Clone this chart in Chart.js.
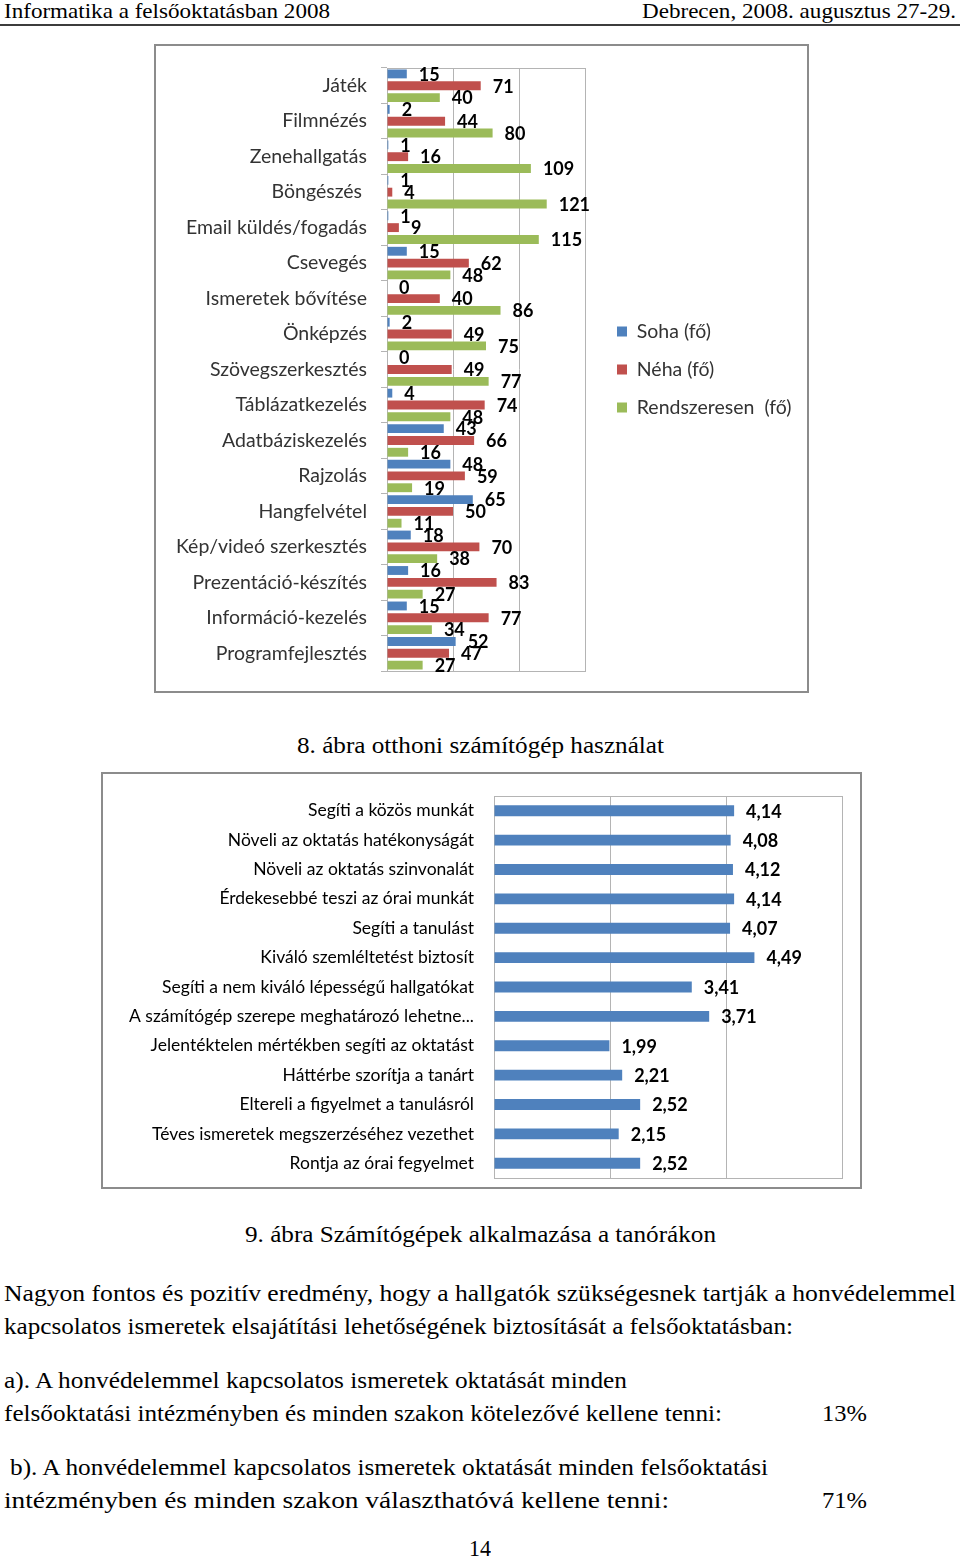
<!DOCTYPE html>
<html>
<head>
<meta charset="utf-8">
<script src="https://cdn.jsdelivr.net/npm/chart.js@4/dist/chart.umd.min.js"></script>
<style>
    html, body { margin: 0; padding: 0; background: #fff; }
    body {
        width: 960px; height: 1561px; position: relative; overflow: hidden;
        font-family: "Liberation Serif", "Times New Roman", serif; color: #000;
    }
    .box { position: absolute; border: 2px solid #8c8c8c; box-sizing: border-box; background: #fff; }
    .box canvas { position: absolute; left: 0; top: 0; }
    .txt { position: absolute; white-space: pre; line-height: 1; transform-origin: 0 0; }
    .rule { position: absolute; left: 0; top: 24px; width: 960px; height: 2px; background: #3c3c3c; }
</style>
</head>
<body>
<div class="rule"></div>
<div class="box" style="left:154px; top:44px; width:655px; height:649px;">
    <canvas id="activityChart" width="651" height="645"></canvas>
</div>
<div class="box" style="left:101px; top:772px; width:761px; height:417px;">
    <canvas id="opinionChart" width="757" height="413"></canvas>
</div>
<script>
// 8. ábra - otthoni számítógép használat (fő)
const activityLabels = [
    'Játék', 'Filmnézés', 'Zenehallgatás', 'Böngészés ', 'Email küldés/fogadás', 'Csevegés',
    'Ismeretek bővítése', 'Önképzés', 'Szövegszerkesztés', 'Táblázatkezelés', 'Adatbáziskezelés',
    'Rajzolás', 'Hangfelvétel', 'Kép/videó szerkesztés', 'Prezentáció-készítés',
    'Információ-kezelés', 'Programfejlesztés'
];
const sohaValues         = [15, 2, 1, 1, 1, 15, 0, 2, 0, 4, 43, 48, 65, 18, 16, 15, 52];
const nehaValues         = [71, 44, 16, 4, 9, 62, 40, 49, 49, 74, 66, 59, 50, 70, 83, 77, 47];
const rendszeresenValues = [40, 80, 109, 121, 115, 48, 86, 75, 77, 48, 16, 19, 11, 38, 27, 34, 27];
const activitySeries = ['Soha (fő)', 'Néha (fő)', 'Rendszeresen  (fő)'];

// 9. ábra - számítógépek alkalmazása a tanórákon (átlag)
const opinionLabels = [
    'Segíti a közös munkát', 'Növeli az oktatás hatékonyságát', 'Növeli az oktatás szinvonalát',
    'Érdekesebbé teszi az órai munkát', 'Segíti a tanulást', 'Kiváló szemléltetést biztosít',
    'Segíti a nem kiváló lépességű hallgatókat', 'A számítógép szerepe meghatározó lehetne...',
    'Jelentéktelen mértékben segíti az oktatást', 'Háttérbe szorítja a tanárt',
    'Eltereli a figyelmet a tanulásról', 'Téves ismeretek megszerzéséhez vezethet',
    'Rontja az órai fegyelmet'
];
const opinionValues = [4.14, 4.08, 4.12, 4.14, 4.07, 4.49, 3.41, 3.71, 1.99, 2.21, 2.52, 2.15, 2.52];

const BLUE = '#4f81bd', RED = '#c0504d', GREEN = '#9bbb59';
const GRID = '#b4b4b4';
const SANS = 'Lato, Carlito, "Open Sans", sans-serif';

// value labels at the end of each bar
function makeValueLabels(format, font, offset) {
    return {
        id: 'valueLabels',
        afterDatasetsDraw(chart) {
            const ctx = chart.ctx;
            ctx.save();
            ctx.font = font;
            ctx.fillStyle = '#000';
            ctx.textAlign = 'left';
            ctx.textBaseline = 'middle';
            chart.data.datasets.forEach((ds, i) => {
                chart.getDatasetMeta(i).data.forEach((bar, j) => {
                    ctx.fillText(format(ds.data[j]), bar.x + offset, bar.y + 1);
                });
            });
            ctx.restore();
        }
    };
}

// thin frame round the plot area, like Excel does
const plotFrame = {
    id: 'plotFrame',
    beforeDatasetsDraw(chart) {
        const a = chart.chartArea;
        const ctx = chart.ctx;
        ctx.save();
        ctx.strokeStyle = GRID;
        ctx.lineWidth = 1;
        ctx.strokeRect(Math.round(a.left) + 0.5, Math.round(a.top) + 0.5,
            Math.round(a.right - a.left), Math.round(a.bottom - a.top));
        ctx.restore();
    }
};

// legend sits a bit away from the plot area
const legendPlace = {
    id: 'legendPlace',
    beforeLayout(chart) {
        const legend = chart.legend;
        if (!legend || legend._patched) return;
        const fit = legend.fit;
        legend.fit = function () { fit.call(this); this.width = 222; };
        legend._patched = true;
    },
    afterLayout(chart) {
        chart.legend.left += 13.5;
        chart.legend.right += 13.5;
    }
};

// fixed axis width, and no extra room above/below for the tick labels
function fixAxis(width) {
    return (scale) => {
        scale.width = width;
        scale.paddingTop = 0;
        scale.paddingBottom = 0;
    };
}

new Chart(document.getElementById('activityChart'), {
    type: 'bar',
    data: {
        labels: activityLabels,
        datasets: [
            { label: activitySeries[0], data: sohaValues, backgroundColor: BLUE },
            { label: activitySeries[1], data: nehaValues, backgroundColor: RED },
            { label: activitySeries[2], data: rendszeresenValues, backgroundColor: GREEN }
        ]
    },
    options: {
        indexAxis: 'y',
        responsive: false,
        animation: false,
        categoryPercentage: 1.0,
        barPercentage: 0.75,
        layout: { padding: { top: 22, bottom: 20, left: 0, right: 0 } },
        plugins: {
            legend: {
                position: 'right',
                labels: {
                    boxWidth: 10, boxHeight: 10, padding: 18.5,
                    color: '#333', font: { family: SANS, size: 19.5 }
                }
            },
            tooltip: { enabled: false }
        },
        scales: {
            x: {
                min: 0, max: 150,
                ticks: { display: false, stepSize: 50 },
                grid: { color: GRID, drawTicks: false },
                border: { display: false }
            },
            y: {
                ticks: { color: '#333', padding: 14, font: { family: SANS, size: 19.5 } },
                grid: { drawOnChartArea: false, tickLength: 6, color: GRID },
                border: { color: GRID },
                afterFit: fixAxis(231)
            }
        }
    },
    plugins: [plotFrame, legendPlace, makeValueLabels(v => String(v), 'bold 18px ' + SANS, 12)]
});

new Chart(document.getElementById('opinionChart'), {
    type: 'bar',
    data: {
        labels: opinionLabels,
        datasets: [{ label: 'Átlag', data: opinionValues, backgroundColor: BLUE }]
    },
    options: {
        indexAxis: 'y',
        responsive: false,
        animation: false,
        categoryPercentage: 1.0,
        barPercentage: 0.37,
        layout: { padding: { top: 22, bottom: 9, left: 0, right: 18 } },
        plugins: {
            legend: { display: false },
            tooltip: { enabled: false }
        },
        scales: {
            x: {
                min: 0, max: 6,
                ticks: { display: false, stepSize: 2 },
                grid: { color: GRID, drawTicks: false },
                border: { display: false }
            },
            y: {
                ticks: { color: '#000', padding: 20, font: { family: SANS, size: 17.5 } },
                grid: { display: false, drawTicks: false },
                border: { color: GRID },
                afterFit: fixAxis(391)
            }
        }
    },
    plugins: [plotFrame, makeValueLabels(v => v.toFixed(2).replace('.', ','), 'bold 18px ' + SANS, 12)]
});

// page text: [text, left, baseline, font size, width to fill]
const pageLines = [
    ['Informatika a felsőoktatásban 2008', 4, 19, 21, 326],
    ['Debrecen, 2008. augusztus 27-29.', 642, 19, 21, 314],
    ['8. ábra otthoni számítógép használat', 297, 753, 24, 367],
    ['9. ábra Számítógépek alkalmazása a tanórákon', 245, 1242, 24, 471],
    ['Nagyon fontos és pozitív eredmény, hogy a hallgatók szükségesnek tartják a honvédelemmel', 4, 1301, 24, 952],
    ['kapcsolatos ismeretek elsajátítási lehetőségének biztosítását a felsőoktatásban:', 4, 1334, 24, 789],
    ['a). A honvédelemmel kapcsolatos ismeretek oktatását minden', 4, 1388, 24, 623],
    ['felsőoktatási intézményben és minden szakon kötelezővé kellene tenni:', 4, 1421, 24, 718],
    ['13%', 822, 1421, 24, 45],
    ['b). A honvédelemmel kapcsolatos ismeretek oktatását minden felsőoktatási', 10, 1475, 24, 758],
    ['intézményben és minden szakon választhatóvá kellene tenni:', 4, 1508, 24, 665],
    ['71%', 822, 1508, 24, 45],
    ['14', 469, 1556, 24, 22]
];

pageLines.forEach(([text, x, base, size, width]) => {
    const el = document.createElement('div');
    el.className = 'txt';
    el.textContent = text;
    el.style.left = x + 'px';
    el.style.top = (base - 0.8375 * size) + 'px';
    el.style.fontSize = size + 'px';
    document.body.appendChild(el);
    const natural = el.getBoundingClientRect().width;
    el.style.transform = 'scaleX(' + (width / natural).toFixed(4) + ')';
});
</script>
</body>
</html>
